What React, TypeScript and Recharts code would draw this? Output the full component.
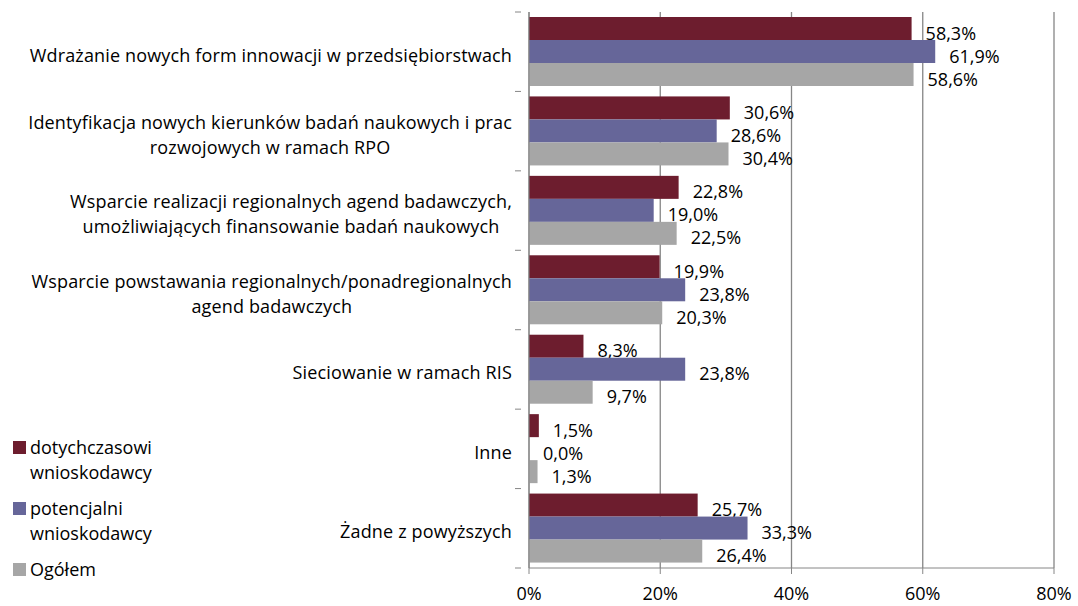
import React from "react";
import {
  BarChart,
  Bar,
  XAxis,
  YAxis,
  CartesianGrid,
} from "recharts";

const categories: string[] = [
  "Wdrażanie nowych form innowacji w przedsiębiorstwach",
  "Identyfikacja nowych kierunków badań naukowych i prac\nrozwojowych w ramach RPO",
  "Wsparcie realizacji regionalnych agend badawczych,\numożliwiających finansowanie badań naukowych",
  "Wsparcie powstawania regionalnych/ponadregionalnych\nagend badawczych",
  "Sieciowanie w ramach RIS",
  "Inne",
  "Żadne z powyższych",
];

const dotychczasowi: number[] = [58.3, 30.6, 22.8, 19.9, 8.3, 1.5, 25.7];
const potencjalni: number[] = [61.9, 28.6, 19.0, 23.8, 23.8, 0.0, 33.3];
const ogolem: number[] = [58.6, 30.4, 22.5, 20.3, 9.7, 1.3, 26.4];

const seriesNames: string[] = [
  "dotychczasowi\nwnioskodawcy",
  "potencjalni\nwnioskodawcy",
  "Ogółem",
];
const xTicks: number[] = [0, 20, 40, 60, 80];

const COLORS = ["#6D1D2E", "#666699", "#A6A6A6"];
const AXIS = "#868686";
const FONT = "'Open Sans', 'Noto Sans', sans-serif";
const FS = 18;
const LS = 0.15;

const fmt = (v: number) => v.toFixed(1).replace(".", ",") + "%";

const data = categories.map((c, i) => ({
  name: c,
  d: dotychczasowi[i],
  p: potencjalni[i],
  o: ogolem[i],
}));

const W = 1078;
const H = 606;
const MARGIN = { top: 12, right: 24, bottom: 0, left: 0 };
const YW = 529;
const XH = 38;
const plotH = H - MARGIN.top - MARGIN.bottom - XH;
const band = plotH / categories.length;

let ctx: CanvasRenderingContext2D | null = null;
function measure(t: string): number {
  if (!ctx) {
    const c = document.createElement("canvas");
    ctx = c.getContext("2d");
  }
  if (!ctx) return t.length * 9;
  ctx.font = `${FS}px 'Open Sans'`;
  return ctx.measureText(t).width + LS * t.length;
}

const CatTick = (props: any) => {
  const { x, y, payload, index } = props;
  const lines: string[] = String(payload.value).split("\n");
  const maxW = Math.max(...lines.map(measure));
  const right = x - 19;
  const cx = right - maxW / 2;
  const lh = 25;
  const startY = y + 3 - ((lines.length - 1) * lh) / 2;
  const top = y - band / 2;
  return (
    <g>
      <line x1={x - 6} x2={x} y1={top} y2={top} stroke={AXIS} />
      {index === categories.length - 1 && (
        <line x1={x - 6} x2={x} y1={top + band} y2={top + band} stroke={AXIS} />
      )}
      {lines.map((l, i) => (
        <text
          key={i}
          x={cx + 10}
          y={startY + i * lh}
          textAnchor="middle"
          dominantBaseline="central"
          fontFamily={FONT}
          fontSize={FS}
          letterSpacing={LS}
          fill="#000"
        >
          {l}
        </text>
      ))}
    </g>
  );
};

const makeShape = (key: "d" | "p" | "o", color: string) => (props: any) => {
  const { x, y, width, height, payload } = props;
  const w = Math.max(0, width || 0);
  const v = payload ? payload[key] : 0;
  return (
    <g>
      {w > 0 && <rect x={x} y={y} width={w} height={height} fill={color} />}
      <text
        x={x + w + 14}
        y={y + height / 2 + 4}
        dominantBaseline="central"
        fontFamily={FONT}
        fontSize={FS}
        fill="#000"
      >
        {fmt(Number(v))}
      </text>
    </g>
  );
};

const LegendBox = () => (
  <div
    style={{
      position: "absolute",
      left: 13,
      top: 435,
      fontFamily: FONT,
      fontSize: FS,
      color: "#000",
      lineHeight: "25px",
    }}
  >
    {seriesNames.map((n, i) => (
      <div key={i} style={{ display: "flex", alignItems: "flex-start", marginBottom: 11 }}>
        <div
          style={{
            width: 13,
            height: 13,
            background: COLORS[i],
            marginTop: 6,
            marginRight: 4,
            flex: "none",
          }}
        />
        <div>
          {n.split("\n").map((l, j) => (
            <div key={j}>{l}</div>
          ))}
        </div>
      </div>
    ))}
  </div>
);

const KEYS: ("d" | "p" | "o")[] = ["d", "p", "o"];

export default function App() {
  return (
    <div style={{ position: "absolute", left: 0, top: 0, width: W, height: H, background: "#fff" }}>
      <BarChart
        width={W}
        height={H}
        data={data}
        layout="vertical"
        margin={MARGIN}
        barGap={0}
        barSize={23}
      >
        <CartesianGrid horizontal={false} vertical stroke={AXIS} strokeWidth={1.3} />
        <XAxis
          type="number"
          domain={[0, 80]}
          ticks={xTicks}
          tickFormatter={(v: number) => `${v}%`}
          height={XH}
          stroke={AXIS}
          tickSize={6}
          tickMargin={13}
          tick={{ fill: "#000", fontFamily: FONT, fontSize: FS }}
          interval={0}
        />
        <YAxis
          type="category"
          dataKey="name"
          width={YW}
          stroke={AXIS}
          tickLine={false}
          tick={<CatTick />}
          interval={0}
        />
        {KEYS.map((k, i) => (
          <Bar
            key={k}
            dataKey={k}
            fill={COLORS[i]}
            isAnimationActive={false}
            shape={makeShape(k, COLORS[i])}
          />
        ))}
      </BarChart>
      <LegendBox />
    </div>
  );
}
